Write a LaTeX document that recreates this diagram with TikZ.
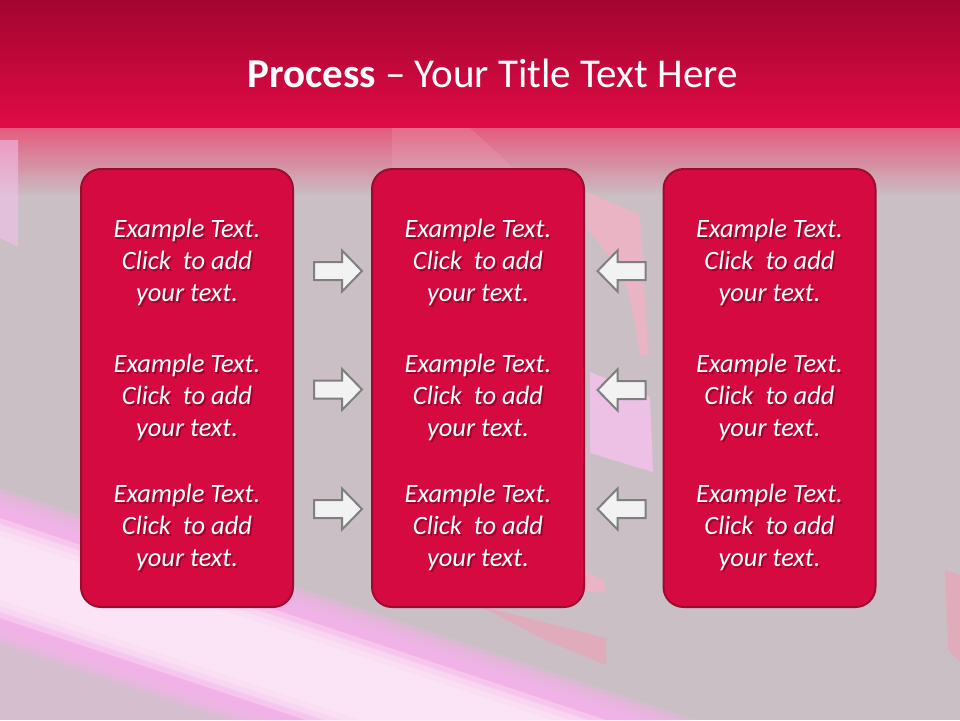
\documentclass[tikz,border=0pt]{standalone}
\usepackage{fontspec}
\setmainfont{Carlito}
\usetikzlibrary{calc}
\definecolor{bg}{HTML}{CABFC4}
\definecolor{hdtop}{HTML}{A30530}
\definecolor{hdbot}{HTML}{E00B46}
\definecolor{fadetop}{HTML}{E4587C}
\definecolor{fademid}{HTML}{DA96A6}
\definecolor{boxfill}{HTML}{D40A40}
\definecolor{boxline}{HTML}{9E0A30}
\definecolor{arrfill}{HTML}{F2F2F2}
\definecolor{arrline}{HTML}{7F7F7F}
\definecolor{shadowc}{HTML}{5A0018}
\definecolor{bandout}{HTML}{F6B2EC}
\definecolor{bandin}{HTML}{FEF0FA}
\definecolor{pinkred}{HTML}{F2B2C4}
\definecolor{pinkvio}{HTML}{F6C2EE}
\definecolor{streak}{HTML}{E8A6B8}
\newcommand\myblock[2]{%
  \node[shadowtext] (s#1) at ($(#2)+(1.8,-2)$) {Example Text.\\Click\ \ to add\\your text.};
  \node[bodytext] (#1) at (#2) {Example Text.\\Click\ \ to add\\your text.};}
\newcommand\bandpoly[2]{% top offset, bottom offset (image pixels at x=0), slope 1/3
  (0,-#1) -- ({(720-#1)*3},-720) -- ({(720-#2)*3},-720) -- (0,-#2) -- cycle}
\begin{document}
\begin{tikzpicture}[x=1pt,y=1pt,
  panel/.style={draw=boxline, line width=2pt, fill=boxfill, rounded corners=20pt,
    minimum width=212pt, minimum height=438pt, inner sep=0pt},
  bodytext/.style={text=white, font=\fontsize{26.5}{32}\selectfont\itshape, align=center, inner sep=0pt},
  shadowtext/.style={bodytext, text=shadowc, text opacity=0.5},
  blockarrow/.style={draw=arrline, line width=2pt, fill=arrfill, line join=miter},
  rarrow/.pic={\draw[blockarrow] (-24,9) -- (4,9) -- (4,20.5) -- (24,0) -- (4,-20.5) -- (4,-9) -- (-24,-9) -- cycle;},
  larrow/.pic={\draw[blockarrow] (24,9) -- (-4,9) -- (-4,20.5) -- (-24,0) -- (-4,-20.5) -- (-4,-9) -- (24,-9) -- cycle;},
]
\useasboundingbox (0,0) rectangle (960,-720);
\begin{scope}
\clip (0,0) rectangle (960,-720);
% background
\fill[bg] (0,0) rectangle (960,-720);
\shade[top color=fadetop, middle color=fademid, bottom color=bg] (0,-126) rectangle (960,-196);
% decorations
\fill[pinkvio, opacity=.55] (0,-140) -- (18,-140) -- (18,-247) -- (0,-238) -- cycle;
\fill[pinkred, opacity=.2] (392,-128) -- (470,-128) -- (514,-168) -- (392,-168) -- cycle;
\fill[pinkred, opacity=.8] (587,-192) -- (640,-215) -- (648,-355) -- (640,-355) .. controls (628,-280) .. (587,-228) -- cycle;
\fill[pinkvio, opacity=.8] (590,-372) -- (650,-397) -- (653,-472) -- (590,-453) -- cycle;
\fill[pinkred, opacity=.8] (560,-560) -- (603,-580) -- (606,-592) -- (560,-592) -- cycle;
\fill[streak, opacity=.75] (480,-606) -- (606,-638) -- (606,-665) -- (545,-640) -- cycle;
\fill[streak, opacity=.75] (945,-570) -- (960,-575) -- (960,-662) -- (948,-650) -- cycle;
\fill[pinkvio, opacity=.25] \bandpoly{612}{760};
% soft diagonal band
\foreach \d in {0,5,10,15,20} {\fill[bandout, opacity=.38] \bandpoly{508+\d}{624-\d};}
\foreach \d in {0,6,12,18} {\fill[bandin, opacity=.35] \bandpoly{536+\d}{600-\d};}
% header
\shade[top color=hdtop, bottom color=hdbot] (0,0) rectangle (960,-127);
\end{scope}
% title
\node[text=white, font=\fontsize{41}{44}\selectfont, anchor=base, inner sep=0pt] (title) at (492.5,-87) {\textbf{Process} – Your Title Text Here};
% panels
\node[panel] (b1) at (187,-388) {};
\node[panel] (b2) at (478,-388) {};
\node[panel] (b3) at (769.5,-388) {};
% texts
\myblock{t11}{187,-262}
\myblock{t12}{187,-397}
\myblock{t13}{187,-527}
\myblock{t21}{478,-262}
\myblock{t22}{478,-397}
\myblock{t23}{478,-527}
\myblock{t31}{769.5,-262}
\myblock{t32}{769.5,-397}
\myblock{t33}{769.5,-527}
% arrows
\pic (r1) at (338,-271) {rarrow};
\pic (r2) at (338,-389.5) {rarrow};
\pic (r3) at (338,-509) {rarrow};
\pic (l1) at (621.5,-271) {larrow};
\pic (l2) at (621.5,-390) {larrow};
\pic (l3) at (621.5,-509) {larrow};
\end{tikzpicture}
\end{document}
